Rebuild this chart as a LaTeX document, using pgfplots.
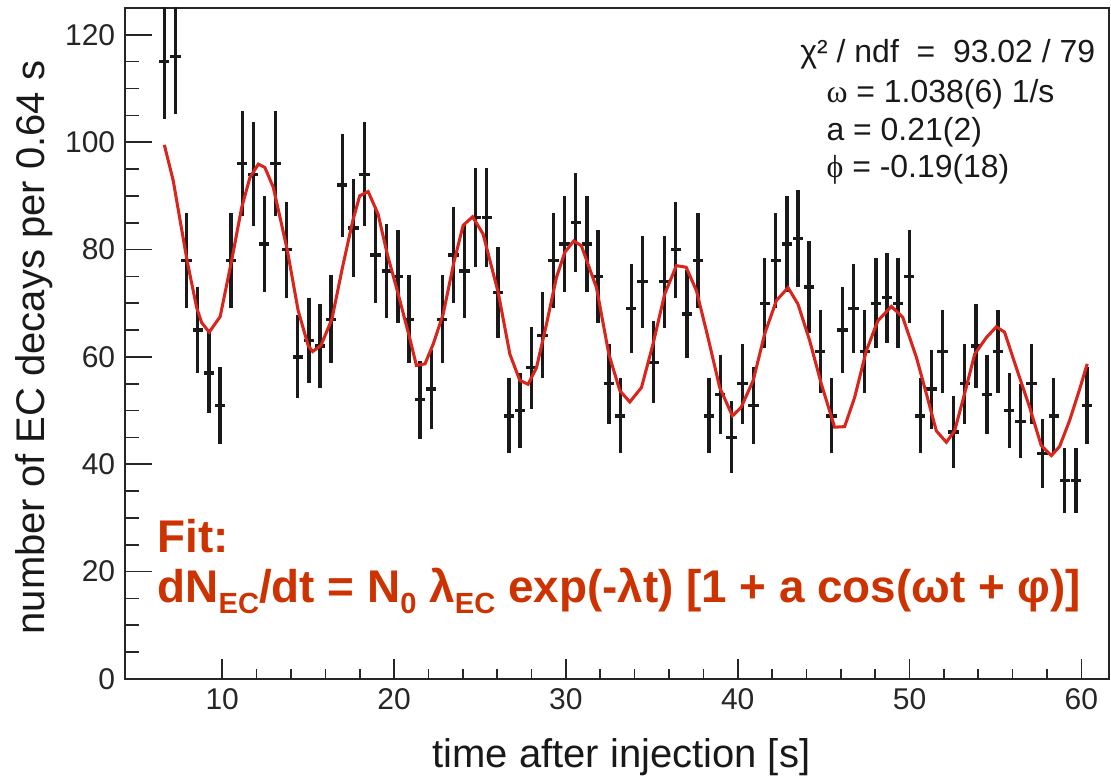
\documentclass[border=0pt]{standalone}
\usepackage{pgfplots}
\usepackage{pgfplotstable}
\pgfplotsset{compat=1.18}
\usepackage{fontspec}
\setmainfont{Liberation Sans}
\newfontfamily\serifgr{Liberation Serif}
\definecolor{fitred}{RGB}{218,37,29}
\definecolor{fitorange}{RGB}{204,51,0}
\newcommand\sub[1]{\raisebox{-0.45ex}{\fontsize{10.5}{11}\selectfont #1}}

% EC decay counts per 0.64 s bin, error = sqrt(n)
\pgfplotstableread{
t     n    e
6.63  115  10.72
7.28  116  10.77
7.92  78   8.83
8.57  65   8.06
9.22  57   7.55
9.87  51   7.14
10.51 78   8.83
11.16 96   9.80
11.81 94   9.70
12.45 81   9.00
13.10 96   9.80
13.75 80   8.94
14.39 60   7.75
15.04 63   7.94
15.69 62   7.87
16.33 67   8.19
16.98 92   9.59
17.63 84   9.17
18.28 94   9.70
18.92 79   8.89
19.57 76   8.72
20.22 75   8.66
20.86 67   8.19
21.51 52   7.21
22.16 54   7.35
22.80 67   8.19
23.45 79   8.89
24.10 76   8.72
24.75 86   9.27
25.39 86   9.27
26.04 72   8.49
26.69 49   7.00
27.33 50   7.07
27.98 58   7.62
28.63 64   8.00
29.27 78   8.83
29.92 81   9.00
30.57 85   9.22
31.22 81   9.00
31.86 75   8.66
32.51 55   7.42
33.16 49   7.00
33.80 69   8.31
34.45 74   8.60
35.10 59   7.68
35.74 74   8.60
36.39 80   8.94
37.04 68   8.25
37.69 78   8.83
38.33 49   7.00
38.98 53   7.28
39.63 45   6.71
40.27 55   7.42
40.92 51   7.14
41.57 70   8.37
42.21 78   8.83
42.86 81   9.00
43.51 82   9.06
44.15 73   8.54
44.80 61   7.81
45.45 49   7.00
46.10 65   8.06
46.74 69   8.31
47.39 61   7.81
48.04 70   8.37
48.68 71   8.43
49.33 70   8.37
49.98 75   8.66
50.62 49   7.00
51.27 54   7.35
51.92 61   7.81
52.56 46   6.78
53.21 55   7.42
53.86 62   7.87
54.50 53   7.28
55.15 61   7.81
55.80 50   7.07
56.45 48   6.93
57.09 55   7.42
57.74 42   6.48
58.39 49   7.00
59.03 37   6.08
59.68 37   6.08
60.33 51   7.14
}\counts

% fit curve
\pgfplotstableread{
t     f
6.63  99.5
7.15  92.8
7.95  78.0
8.51  69.2
8.80  66.4
9.24  64.6
9.88  67.5
10.55 78.0
11.13 87.8
11.61 93.4
12.10 95.9
12.48 95.3
12.97 91.6
13.78 80.0
14.42 68.6
15.00 62.1
15.26 61.0
15.74 62.1
16.38 67.0
17.00 76.7
17.60 85.4
18.00 90.0
18.49 90.8
19.07 86.6
19.60 79.2
20.24 71.7
20.95 63.0
21.30 58.4
21.80 58.7
22.28 62.4
22.86 68.0
23.48 77.6
24.02 84.5
24.57 86.1
25.18 82.9
26.06 72.0
26.74 60.5
27.32 55.6
27.80 54.9
28.29 58.0
28.87 66.1
29.45 74.8
29.94 79.5
30.46 81.6
30.90 80.7
31.78 72.9
32.50 60.5
33.14 53.7
33.72 51.6
34.40 54.3
35.07 62.4
35.75 71.7
36.43 77.0
37.00 76.7
37.60 72.3
38.27 63.6
38.95 54.3
39.69 49.0
40.20 50.6
40.90 55.6
41.57 64.3
42.25 70.5
42.93 72.9
43.51 69.8
44.19 63.0
44.87 54.9
45.64 46.9
46.22 47.0
46.80 52.4
47.48 61.1
48.15 66.7
48.94 69.4
49.60 67.4
50.40 59.9
50.98 53.1
51.56 46.2
52.14 44.1
52.62 46.2
53.20 53.1
53.79 60.5
54.47 63.6
55.05 65.6
55.53 64.6
56.21 58.0
56.99 50.6
57.66 43.5
58.25 41.6
58.73 43.3
59.31 48.1
59.90 54.0
60.34 58.7
}\fitcurve

\begin{document}
\begin{tikzpicture}
\useasboundingbox (-45pt,-36pt) rectangle (355pt,244.44pt);
\begin{axis}[
  scale only axis,
  width=354.24pt, height=241.56pt,
  xmin=4.34, xmax=61.6,
  ymin=0, ymax=125,
  xtick={10,20,...,60},
  ytick={0,20,...,120},
  minor x tick num=4,
  minor y tick num=3,
  tick align=inside,
  xtick pos=bottom, ytick pos=left,
  major tick length=9.7pt, minor tick length=5pt,
  xtick style={/pgfplots/major tick length=7.2pt, /pgfplots/minor tick length=3.6pt},
  tick style={black!85, line width=0.6pt},
  axis line style={black!85, line width=0.7pt},
  ticklabel style={font=\fontsize{10.8}{12}\selectfont, text=black!85},
  /pgf/number format/assume math mode=true,
]
\addplot[draw=none, mark=none,
  error bars/.cd,
    x dir=both, x fixed=0.3,
    y dir=both, y explicit,
    error mark=none,
    error bar style={draw=black!90, solid, line width=1.2pt}]
  table[x=t, y=n, y error=e] {\counts};
\addplot[fitred, line width=1.1pt, mark=none] table[x=t, y=f] {\fitcurve};
\end{axis}

% axis titles
\node[anchor=base, font=\fontsize{14.4}{16}\selectfont, text=black!90] at (178.7pt,-32pt) {time after injection [s]};
\node[anchor=base, rotate=90, font=\fontsize{14.4}{16}\selectfont, text=black!90] at (-28.8pt,119.3pt) {number of EC decays per 0.64 s};

% fit statistics
\begin{scope}[font=\fontsize{11.5}{13}\selectfont, text=black!90]
\node[anchor=base west, inner sep=0pt] at (243pt,222.1pt) {χ² / ndf\ \ =\ \ 93.02 / 79};
\node[anchor=base west, inner sep=0pt] at (252.4pt,207.4pt) {{\serifgr ω} = 1.038(6) 1/s};
\node[anchor=base west, inner sep=0pt] at (252.4pt,194.0pt) {a = 0.21(2)};
\node[anchor=base west, inner sep=0pt] at (252.4pt,180.4pt) {{\serifgr ϕ} = -0.19(18)};
\end{scope}

% fit function
\begin{scope}[font=\bfseries\fontsize{16.5}{18}\selectfont, text=fitorange]
\node[anchor=base west, inner sep=0pt] at (11.5pt,45.4pt) {Fit:};
\node[anchor=base west, inner sep=0pt] at (11.5pt,27.4pt) {dN\sub{EC}/dt = N\sub{0} λ\sub{EC} exp(-λt) [1 + a cos(ωt + φ)]};
\end{scope}
\end{tikzpicture}
\end{document}
